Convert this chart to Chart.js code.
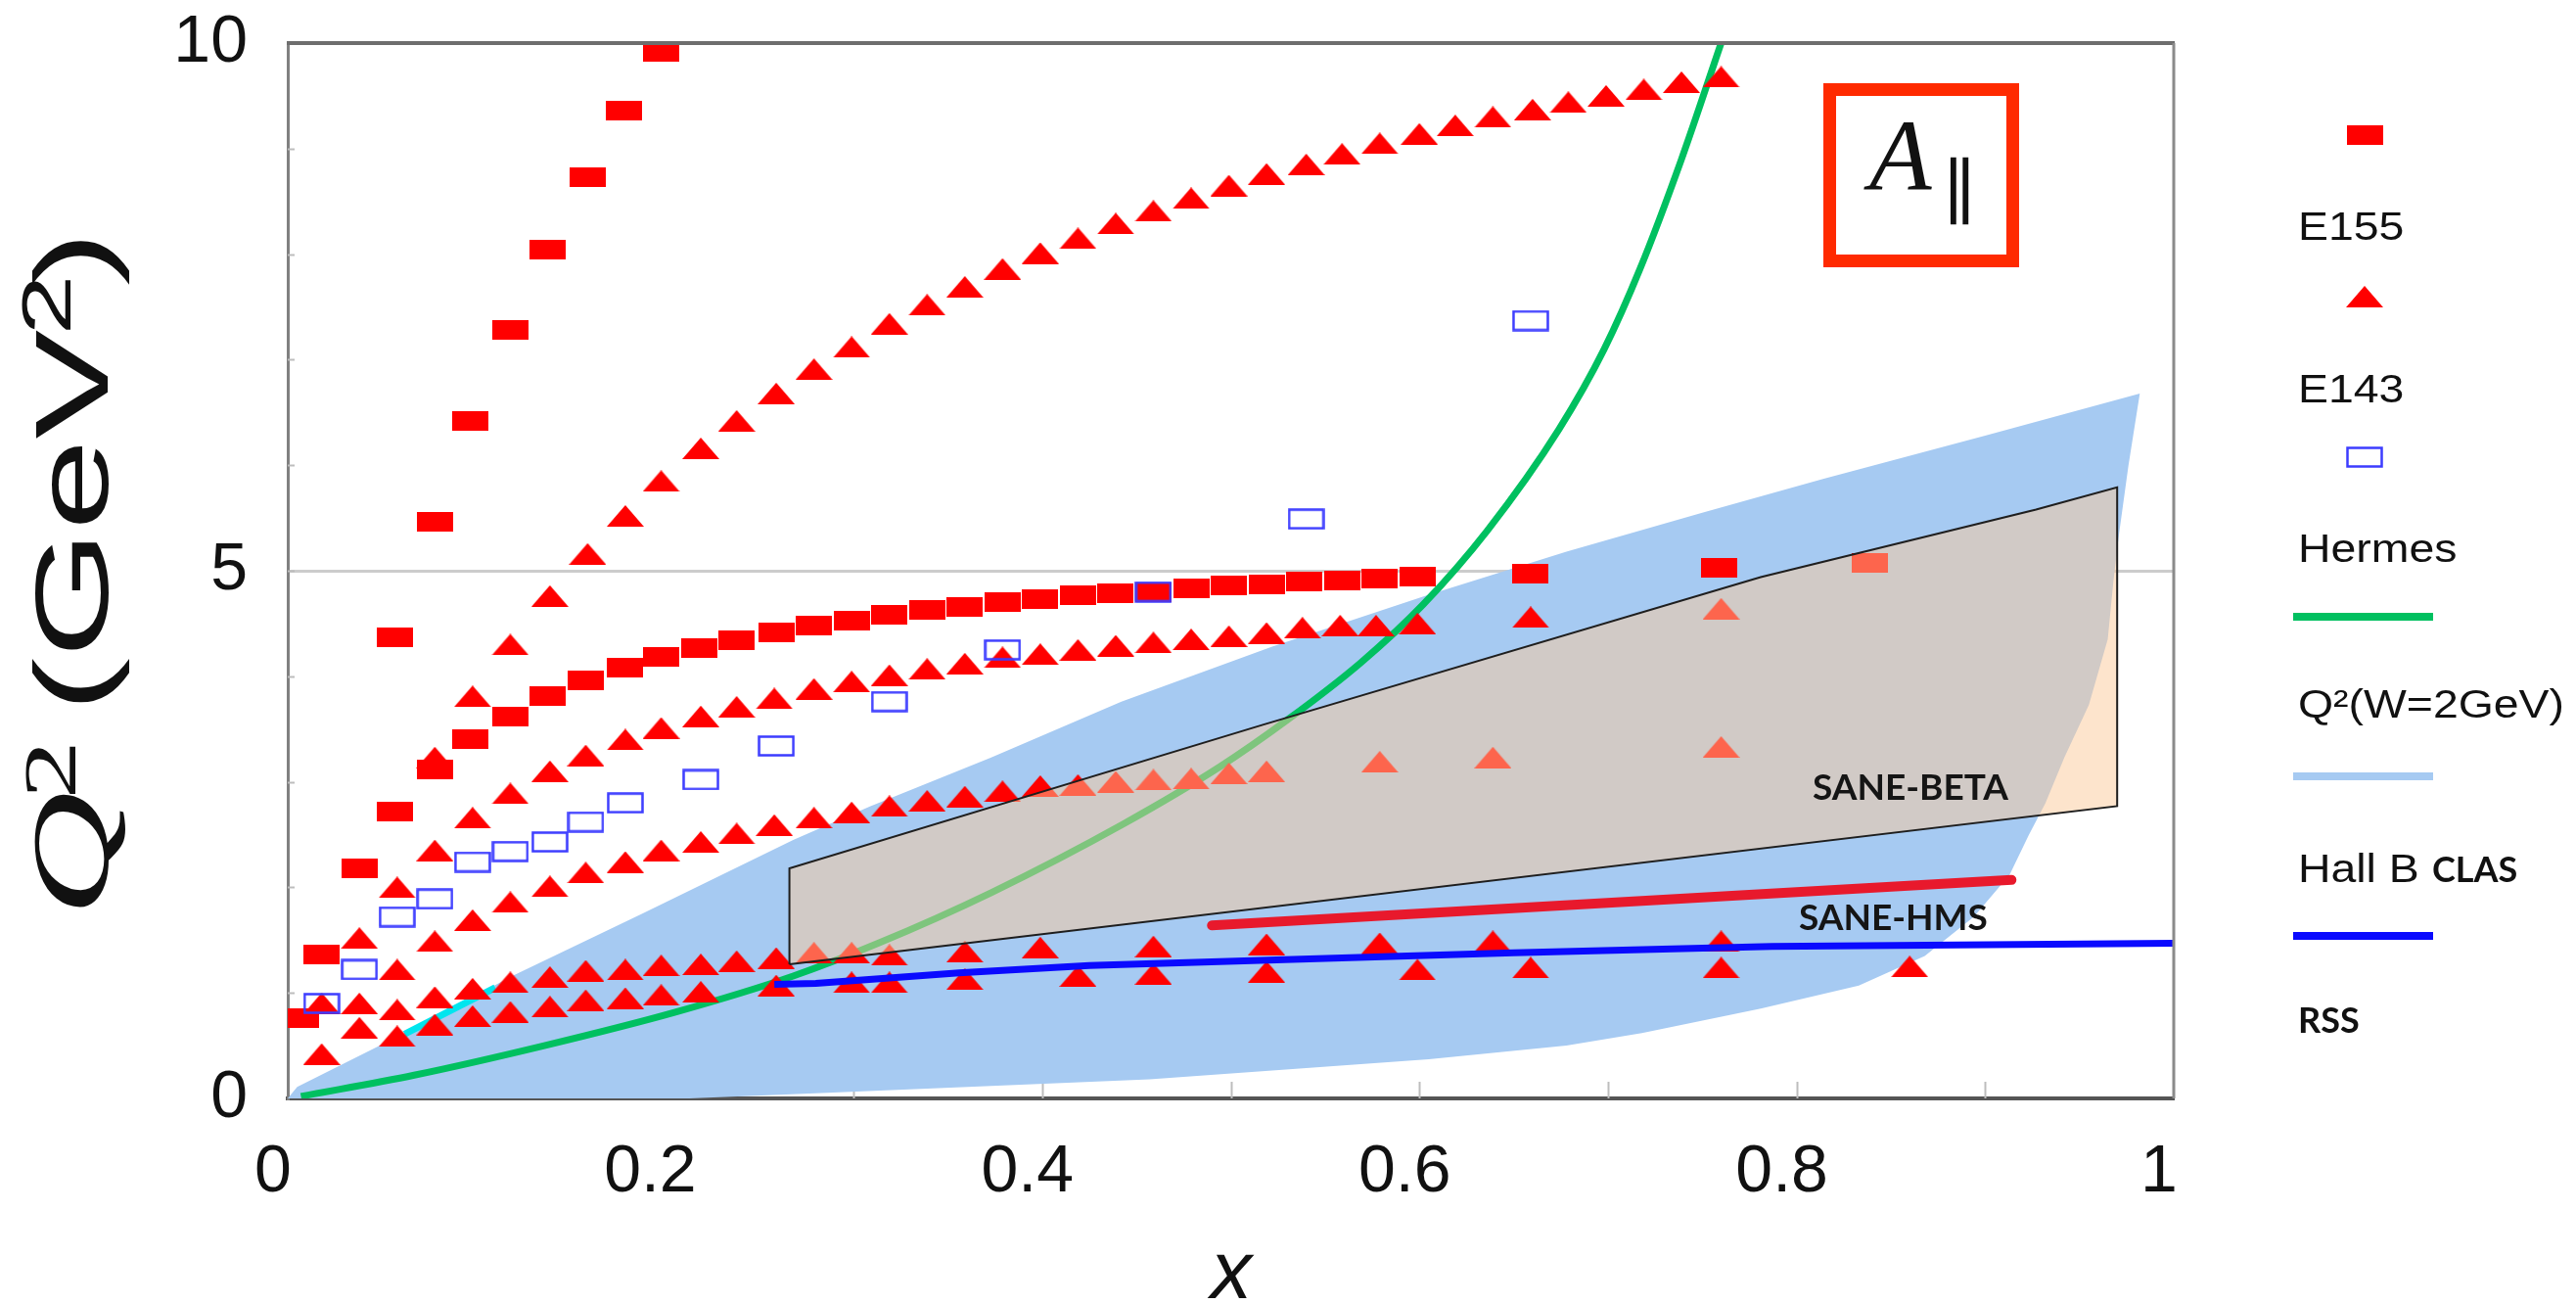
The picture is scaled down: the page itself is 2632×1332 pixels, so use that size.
<!DOCTYPE html>
<html>
<head>
<meta charset="utf-8">
<title>Q² vs x coverage, A∥</title>
<script src="https://cdn.jsdelivr.net/npm/chart.js@4.4.1/dist/chart.umd.min.js"></script>
<style>
  html, body { margin: 0; padding: 0; background: #ffffff; }
  canvas { display: block; }
</style>
</head>
<body>
<canvas id="chart" width="2632" height="1332"></canvas>
<script>
// ---------------- data: each point is [x, Q² (GeV²)] ----------------
const e155 = [
  [0.007,0.76],[0.018,1.36],[0.038,2.18],[0.057,2.72],[0.078,3.12],[0.097,3.40],[0.118,3.62],
  [0.138,3.81],[0.158,3.96],[0.179,4.08],[0.198,4.18],[0.218,4.27],[0.238,4.34],[0.259,4.42],
  [0.279,4.48],[0.299,4.53],[0.319,4.58],[0.339,4.63],[0.359,4.66],[0.379,4.70],[0.399,4.73],
  [0.419,4.77],[0.439,4.79],[0.459,4.80],[0.479,4.83],[0.499,4.86],[0.519,4.87],[0.539,4.90],
  [0.559,4.91],[0.579,4.93],[0.599,4.94],[0.659,4.97],[0.759,5.03],[0.839,5.07],
  [0.057,4.37],[0.078,5.46],[0.097,6.42],[0.118,7.28],[0.138,8.04],[0.159,8.73],[0.178,9.36],[0.198,9.92]
];

const e143 = [
  // upper sequence
  [0.078,3.23],[0.098,3.81],[0.118,4.30],[0.139,4.76],[0.159,5.16],[0.179,5.52],[0.198,5.85],
  [0.219,6.16],[0.238,6.42],[0.259,6.68],[0.279,6.91],[0.299,7.12],[0.319,7.34],[0.339,7.52],
  [0.359,7.69],[0.379,7.86],[0.399,8.01],[0.419,8.15],[0.439,8.29],[0.459,8.41],[0.479,8.53],
  [0.499,8.65],[0.519,8.76],[0.540,8.85],[0.559,8.95],[0.579,9.05],[0.600,9.14],[0.619,9.22],
  [0.639,9.30],[0.660,9.37],[0.679,9.44],[0.699,9.50],[0.719,9.56],[0.739,9.63],[0.760,9.68],
  // middle sequences
  [0.038,1.52],[0.058,2.00],[0.078,2.35],[0.098,2.66],[0.118,2.89],[0.139,3.10],[0.158,3.25],
  [0.179,3.40],[0.198,3.51],[0.219,3.62],[0.238,3.71],[0.258,3.79],[0.279,3.88],[0.299,3.95],
  [0.319,4.01],[0.339,4.07],[0.359,4.12],[0.379,4.18],[0.399,4.21],[0.419,4.25],[0.439,4.29],
  [0.459,4.32],[0.479,4.35],[0.499,4.38],[0.519,4.41],[0.538,4.46],[0.558,4.48],[0.577,4.48],
  [0.599,4.50],[0.659,4.56],[0.760,4.64],
  [0.058,1.22],[0.078,1.49],[0.098,1.69],[0.118,1.86],[0.139,2.01],[0.158,2.14],[0.179,2.24],
  [0.198,2.35],[0.219,2.43],[0.238,2.51],[0.258,2.59],[0.279,2.66],[0.299,2.71],[0.319,2.77],
  [0.339,2.82],[0.359,2.86],[0.379,2.91],[0.399,2.96],[0.419,2.97],[0.439,3.00],[0.459,3.02],
  [0.479,3.03],[0.499,3.08],[0.519,3.10],[0.579,3.19],[0.639,3.23],[0.760,3.33],
  // low-Q² sequences
  [0.018,0.90],[0.018,0.42],[0.038,0.90],[0.038,0.67],[0.058,0.84],[0.058,0.59],[0.078,0.96],
  [0.078,0.70],[0.098,1.04],[0.098,0.78],[0.118,1.10],[0.118,0.82],[0.139,1.15],[0.139,0.87],
  [0.158,1.21],[0.158,0.93],[0.179,1.22],[0.179,0.95],[0.198,1.26],[0.198,0.98],[0.219,1.27],
  [0.219,1.01],[0.238,1.30],[0.259,1.33],[0.259,1.07],[0.279,1.38],[0.299,1.38],[0.299,1.10],
  [0.319,1.36],[0.319,1.10],[0.359,1.39],[0.359,1.13],[0.399,1.43],[0.419,1.16],[0.459,1.44],
  [0.459,1.18],[0.519,1.46],[0.519,1.20],[0.579,1.47],[0.599,1.22],[0.639,1.49],[0.659,1.24],
  [0.760,1.49],[0.760,1.24],[0.860,1.25]
];

const hermes = [
  [0.018,0.90],[0.038,1.22],[0.058,1.72],[0.078,1.89],[0.098,2.24],[0.118,2.34],[0.139,2.43],
  [0.158,2.62],[0.179,2.80],[0.219,3.02],[0.259,3.34],[0.319,3.76],[0.379,4.25],[0.459,4.80],
  [0.540,5.49],[0.659,7.37]
];

// W = 2 GeV boundary
const w2Curve = [
  [0.007,0.02],[0.067,0.22],[0.136,0.50],[0.206,0.82],[0.268,1.16],[0.313,1.47],[0.373,1.95],
  [0.443,2.60],[0.494,3.14],[0.531,3.60],[0.569,4.13],[0.602,4.68],[0.636,5.38],[0.674,6.34],
  [0.698,7.10],[0.717,7.86],[0.739,8.90],[0.760,10.0]
];

// Hall B CLAS coverage (closed outline)
const hallB = [
  [0.000,0.00],[0.005,0.11],[0.062,0.62],[0.119,1.16],[0.188,1.75],[0.268,2.45],[0.309,2.77],
  [0.373,3.23],[0.442,3.76],[0.522,4.28],[0.603,4.76],[0.678,5.18],[0.750,5.55],[0.814,5.87],
  [0.900,6.28],[0.982,6.68],[0.976,6.00],[0.971,5.35],[0.968,4.90],[0.965,4.35],[0.955,3.73],
  [0.942,3.23],[0.932,2.80],[0.923,2.49],[0.913,2.12],[0.894,1.72],[0.868,1.35],[0.833,1.07],
  [0.781,0.85],[0.718,0.62],[0.678,0.50],[0.605,0.37],[0.457,0.18],[0.283,0.05],[0.213,0.00]
];
const clasEdge = [[0.062,0.61],[0.110,1.05]];

const rss = [[0.258,1.08],[0.280,1.09],[0.356,1.19],[0.425,1.26],[0.520,1.31],[0.650,1.38],[0.787,1.44],[1.000,1.47]];
const saneHms = [[0.490,1.64],[0.914,2.07]];
const saneBeta = [[0.266,1.27],[0.266,2.18],[0.517,3.54],[0.781,4.94],[0.927,5.58],[0.970,5.79],[0.970,2.77],[0.266,1.27]];

const xTickValues = [0, 0.2, 0.4, 0.6, 0.8, 1];
const xTickLabels = ['0', '0.2', '0.4', '0.6', '0.8', '1'];
const yTickValues = [0, 5, 10];
const yTickLabels = ['0', '5', '10'];
const legendNames = ['E155', 'E143', 'Hermes', 'Q²(W=2GeV)', 'Hall B CLAS', 'RSS'];
const regionNames = ['SANE-BETA', 'SANE-HMS'];
const boxLabel = ['A', '∥'];

// ---------------- marker glyphs ----------------
function makeMarker(w, h, paint) {
  const c = document.createElement('canvas');
  c.width = w; c.height = h;
  paint(c.getContext('2d'), w, h);
  return c;
}
const squareMark = makeMarker(37, 20, (g, w, h) => { g.fillStyle = '#ff0000'; g.fillRect(0, 0, w, h); });
const triMark = makeMarker(38, 22, (g, w, h) => {
  g.fillStyle = '#ff0000'; g.beginPath(); g.moveTo(0, h); g.lineTo(w / 2, 0); g.lineTo(w, h); g.closePath(); g.fill();
});
const openMark = makeMarker(38, 22, (g, w, h) => {
  g.strokeStyle = '#3c3cff'; g.lineWidth = 2.5; g.strokeRect(1.5, 1.5, w - 3, h - 3);
});

const pts = arr => arr.map(p => ({ x: p[0], y: p[1] }));
const labelFor = (vals, labels) => v => {
  const i = vals.findIndex(t => Math.abs(t - v) < 1e-6);
  return i >= 0 ? labels[i] : '';
};

const SANS = '"Liberation Sans", Arial, sans-serif';
const SERIF = '"Liberation Serif", "Times New Roman", serif';

function stretchedText(ctx, str, x, y, font, sx) {
  ctx.save();
  ctx.font = font;
  ctx.translate(x, y);
  ctx.scale(sx, 1);
  ctx.fillText(str, 0, 0);
  ctx.restore();
}

// ---------------- decorations: inner ticks, frame, titles, legend, labels ----------------
const decorations = {
  id: 'decorations',
  beforeDatasetsDraw(chart) {
    const { ctx, chartArea: a, scales: { x, y } } = chart;
    ctx.save();
    ctx.strokeStyle = '#bdbdbd';
    ctx.lineWidth = 2;
    x.ticks.forEach(t => {
      if (t.value <= 0.001 || t.value >= 0.999) return;
      const px = Math.round(x.getPixelForValue(t.value)) + 0.5;
      ctx.beginPath(); ctx.moveTo(px, a.bottom); ctx.lineTo(px, a.bottom - 17); ctx.stroke();
    });
    y.ticks.forEach(t => {
      if (t.value <= 0.001 || t.value >= 9.999) return;
      const py = Math.round(y.getPixelForValue(t.value)) + 0.5;
      ctx.beginPath(); ctx.moveTo(a.left, py); ctx.lineTo(a.left + 7, py); ctx.stroke();
    });
    ctx.restore();
  },
  afterDatasetsDraw(chart) {
    const { ctx } = chart;
    ctx.save();
    ctx.fillStyle = '#151515';
    ctx.textBaseline = 'alphabetic';
    ctx.font = 'bold 37px Lato, "Open Sans", sans-serif';
    ctx.fillText(regionNames[0], 1852, 817);
    ctx.fillText(regionNames[1], 1838, 950);
    ctx.restore();
  },
  afterDraw(chart) {
    const { ctx, chartArea: a } = chart;
    ctx.save();

    // top and right frame
    ctx.lineCap = 'butt';
    ctx.strokeStyle = '#6e6e6e'; ctx.lineWidth = 4;
    ctx.beginPath(); ctx.moveTo(a.left - 1, a.top); ctx.lineTo(a.right + 1, a.top); ctx.stroke();
    ctx.strokeStyle = '#8a8a8a'; ctx.lineWidth = 3;
    ctx.beginPath(); ctx.moveTo(a.right, a.top); ctx.lineTo(a.right, a.bottom); ctx.stroke();

    // x-axis title
    ctx.fillStyle = '#111111';
    ctx.textBaseline = 'alphabetic';
    ctx.textAlign = 'center';
    ctx.font = 'italic 84px ' + SANS;
    ctx.fillText('x', 1258, 1326);
    ctx.textAlign = 'left';

    // y-axis title, reading upwards (drawn elongated along its length)
    ctx.save();
    ctx.translate(110, 930);
    ctx.rotate(-Math.PI / 2);
    ctx.scale(1.58, 1);
    ctx.font = 'italic 112px ' + SERIF; ctx.fillText('Q', -4, 0);
    ctx.font = '76px ' + SERIF;         ctx.fillText('2', 72, -33);
    ctx.font = '106px ' + SANS;         ctx.fillText('(GeV', 128, 0);
    ctx.font = '70px ' + SANS;          ctx.fillText('2', 372, -38);
    ctx.font = '106px ' + SANS;         ctx.fillText(')', 404, 0);
    ctx.restore();

    // A∥ box
    ctx.strokeStyle = '#ff2a00'; ctx.lineWidth = 13;
    ctx.strokeRect(1869.5, 91.5, 187, 175);
    ctx.fillStyle = '#111111';
    ctx.font = 'italic 104px ' + SERIF;
    ctx.fillText(boxLabel[0], 1910, 194);
    ctx.font = '74px "DejaVu Serif", serif';
    ctx.fillText(boxLabel[1], 1985, 222);

    // legend: symbol above each name
    const cx = 2416, lx = 2348;
    ctx.drawImage(squareMark, cx - squareMark.width / 2, 138 - squareMark.height / 2);
    ctx.drawImage(triMark, cx - triMark.width / 2, 303 - triMark.height / 2);
    ctx.drawImage(openMark, cx - openMark.width / 2, 467 - openMark.height / 2);
    ctx.lineWidth = 8;
    [[630, '#00c060'], [793, '#a6caf2'], [956, '#0a0aff']].forEach(([yy, col]) => {
      ctx.strokeStyle = col;
      ctx.beginPath(); ctx.moveTo(2343, yy); ctx.lineTo(2486, yy); ctx.stroke();
    });
    ctx.fillStyle = '#111111';
    const f40 = '40px ' + SANS;
    stretchedText(ctx, legendNames[0], lx, 245, f40, 1.16);
    stretchedText(ctx, legendNames[1], lx, 411, f40, 1.16);
    stretchedText(ctx, legendNames[2], lx, 574, f40, 1.16);
    stretchedText(ctx, legendNames[3], lx, 733, f40, 1.16);
    const hallParts = legendNames[4].split(' ');
    stretchedText(ctx, hallParts.slice(0, 2).join(' '), lx, 901, f40, 1.16);
    ctx.font = 'bold 36px Lato, "Open Sans", sans-serif';
    ctx.fillText(hallParts[2], 2485, 901);
    ctx.fillText(legendNames[5], lx, 1055);

    ctx.restore();
  }
};

new Chart(document.getElementById('chart'), {
  type: 'scatter',
  data: {
    datasets: [
      { label: 'Hall B CLAS', type: 'line', data: pts(hallB), fill: 'shape', backgroundColor: '#a6caf2',
        borderWidth: 0, borderColor: 'rgba(0,0,0,0)', pointRadius: 0, tension: 0, order: 10 },
      { label: 'CLAS edge', type: 'line', data: pts(clasEdge), fill: false, borderColor: '#00e5ee',
        borderWidth: 7, pointRadius: 0, order: 9 },
      { label: 'Q²(W=2GeV)', type: 'line', data: pts(w2Curve), fill: false, borderColor: '#00c060',
        borderWidth: 7, pointRadius: 0, cubicInterpolationMode: 'monotone', order: 8 },
      { label: 'E143', data: pts(e143), pointStyle: triMark, pointRadius: 12, order: 6 },
      { label: 'E155', data: pts(e155), pointStyle: squareMark, pointRadius: 12, order: 5 },
      { label: 'Hermes', data: pts(hermes), pointStyle: openMark, pointRadius: 12, order: 4 },
      { label: 'RSS', type: 'line', data: pts(rss), fill: false, borderColor: '#0a0aff',
        borderWidth: 7, pointRadius: 0, order: 3 },
      { label: 'SANE-HMS', type: 'line', data: pts(saneHms), fill: false, borderColor: '#e8192c',
        borderWidth: 10, borderCapStyle: 'round', pointRadius: 0, order: 2 },
      { label: 'SANE-BETA', type: 'line', data: pts(saneBeta), fill: 'shape',
        backgroundColor: 'rgba(251,201,153,0.5)', borderColor: '#1e1e1e', borderWidth: 2,
        pointRadius: 0, tension: 0, order: 1 }
    ]
  },
  options: {
    responsive: false,
    animation: false,
    events: [],
    devicePixelRatio: 1,
    layout: { padding: { left: 0, right: 411, top: 44, bottom: 0 } },
    plugins: { legend: { display: false }, tooltip: { enabled: false } },
    scales: {
      x: {
        type: 'linear', min: 0, max: 1,
        afterFit: s => { s.height = 210; s.paddingLeft = 0; s.paddingRight = 0; },
        ticks: {
          stepSize: 0.1, autoSkip: false, maxRotation: 0, padding: 35, labelOffset: -15,
          color: '#111111', font: { family: SANS, size: 68 },
          callback: labelFor(xTickValues, xTickLabels)
        },
        grid: { drawOnChartArea: false, drawTicks: false },
        border: { display: true, color: '#555555', width: 4 }
      },
      y: {
        type: 'linear', min: 0, max: 10,
        afterFit: s => { s.width = 294; s.paddingTop = 0; s.paddingBottom = 0; },
        ticks: {
          stepSize: 1, autoSkip: false, padding: 41,
          color: '#111111', font: { family: SANS, size: 68 },
          callback: labelFor(yTickValues, yTickLabels)
        },
        grid: {
          drawTicks: false, lineWidth: 3,
          color: c => (c.tick && c.tick.value === 5) ? '#cccccc' : 'rgba(0,0,0,0)'
        },
        border: { display: true, color: '#808080', width: 3 }
      }
    }
  },
  plugins: [decorations]
});
</script>
</body>
</html>
